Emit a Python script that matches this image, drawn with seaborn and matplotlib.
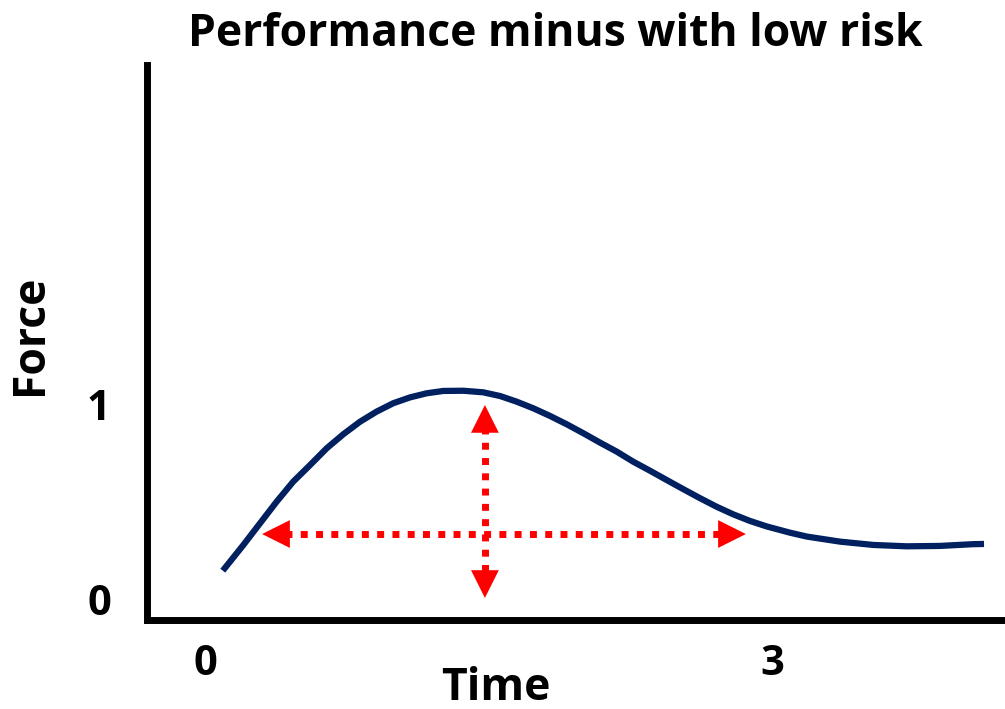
import matplotlib
matplotlib.use("Agg")
import matplotlib.pyplot as plt
import seaborn as sns
import pandas as pd

# ---- data ----
time_vals = [0.094, 0.203, 0.291, 0.379, 0.467, 0.556, 0.644, 0.732, 0.820, 0.908,
             0.996, 1.085, 1.173, 1.261, 1.367, 1.472, 1.561, 1.649, 1.737, 1.825,
             1.914, 2.002, 2.090, 2.178, 2.266, 2.354, 2.443, 2.531, 2.619, 2.707,
             2.795, 2.884, 2.972, 3.095, 3.184, 3.360, 3.536, 3.713, 3.889, 4.065, 4.122]
force_vals = [0.150, 0.282, 0.393, 0.504, 0.607, 0.692, 0.778, 0.850, 0.914, 0.966,
              1.009, 1.039, 1.060, 1.072, 1.073, 1.065, 1.046, 1.017, 0.983, 0.944,
              0.901, 0.855, 0.807, 0.761, 0.709, 0.663, 0.615, 0.568, 0.522, 0.478,
              0.439, 0.405, 0.377, 0.345, 0.325, 0.299, 0.282, 0.275, 0.277, 0.286, 0.287]
h_arrow_x = [0.302, 2.862]
h_arrow_y = 0.338
v_arrow_x = 1.481
v_arrow_y = [1.0, 0.01]
x_ticks = [0, 3]
x_ticklabels = ["0", "3"]
y_ticks = [0, 1]
y_ticklabels = ["0", "1"]
title = "Performance minus with low risk"
xlabel = "Time"
ylabel = "Force"

sns.set_style("white")
plt.rcParams['font.family'] = ['Open Sans', 'DejaVu Sans']
plt.rcParams['font.weight'] = 'bold'
for k in ["text.color", "axes.labelcolor", "xtick.color", "ytick.color"]:
    plt.rcParams[k] = "black"

W, H = 1005, 709
fig = plt.figure(figsize=(W / 100, H / 100), dpi=100)
ax = fig.add_axes([147 / W, 1 - 620 / H, (1005 - 147) / W, (620 - 65) / H])

df = pd.DataFrame({"Time": time_vals, "Force": force_vals})
sns.lineplot(data=df, x="Time", y="Force", ax=ax, color="#002060", lw=4.5,
             solid_capstyle="butt", solid_joinstyle="round", sort=False)

ax.set_xlim(-0.307, 4.233)
ax.set_ylim(-0.103, 2.744)

red = "#ff0000"
shaft_kw = dict(color=red, lw=5, linestyle=(0, (1.0, 1.2)), dash_capstyle="butt")
hx0 = h_arrow_x[0] + 0.12
hx1 = h_arrow_x[1] - 0.12
ax.plot([hx0, hx1], [h_arrow_y, h_arrow_y], **shaft_kw)
vy0 = v_arrow_y[0] - 0.115
vy1 = v_arrow_y[1] + 0.115
ax.plot([v_arrow_x, v_arrow_x], [vy0, vy1], **shaft_kw)

head = dict(arrowstyle="-|>,head_length=1.0,head_width=0.5", color=red, lw=0,
            shrinkA=0, shrinkB=0, mutation_scale=20)
ax.annotate("", xy=(h_arrow_x[0], h_arrow_y), xytext=(hx0 + 0.02, h_arrow_y), arrowprops=head)
ax.annotate("", xy=(h_arrow_x[1], h_arrow_y), xytext=(hx1 - 0.02, h_arrow_y), arrowprops=head)
ax.annotate("", xy=(v_arrow_x, v_arrow_y[0]), xytext=(v_arrow_x, vy0 - 0.02), arrowprops=head)
ax.annotate("", xy=(v_arrow_x, v_arrow_y[1]), xytext=(v_arrow_x, vy1 + 0.02), arrowprops=head)

for s in ["top", "right"]:
    ax.spines[s].set_visible(False)
for s in ["left", "bottom"]:
    ax.spines[s].set_visible(True)
    ax.spines[s].set_linewidth(5)
    ax.spines[s].set_color("black")
    ax.spines[s].set_capstyle("projecting")

ax.set_xticks(x_ticks)
ax.set_xticklabels(x_ticklabels)
ax.set_yticks(y_ticks)
ax.set_yticklabels(y_ticklabels)
ax.tick_params(axis="both", length=0, labelsize=30, colors="black")
ax.tick_params(axis="x", pad=17)
ax.tick_params(axis="y", pad=26)
for t in ax.get_xticklabels() + ax.get_yticklabels():
    t.set_fontweight("bold")

ax.set_xlabel(xlabel, fontsize=32, fontweight="bold")
ax.set_ylabel(ylabel, fontsize=32, fontweight="bold")
ax.xaxis.set_label_coords((496 - 147) / 858, (620 - 688) / 555)
ax.xaxis.label.set_va("center")
ax.yaxis.set_label_coords((30 - 147) / 858, (620 - 335) / 555)
ax.yaxis.label.set_va("center")

fig.text(555 / W, 1 - 35 / H, title, ha="center", va="center", fontsize=32,
         fontweight="bold")

fig.savefig("out.png", dpi=100)
